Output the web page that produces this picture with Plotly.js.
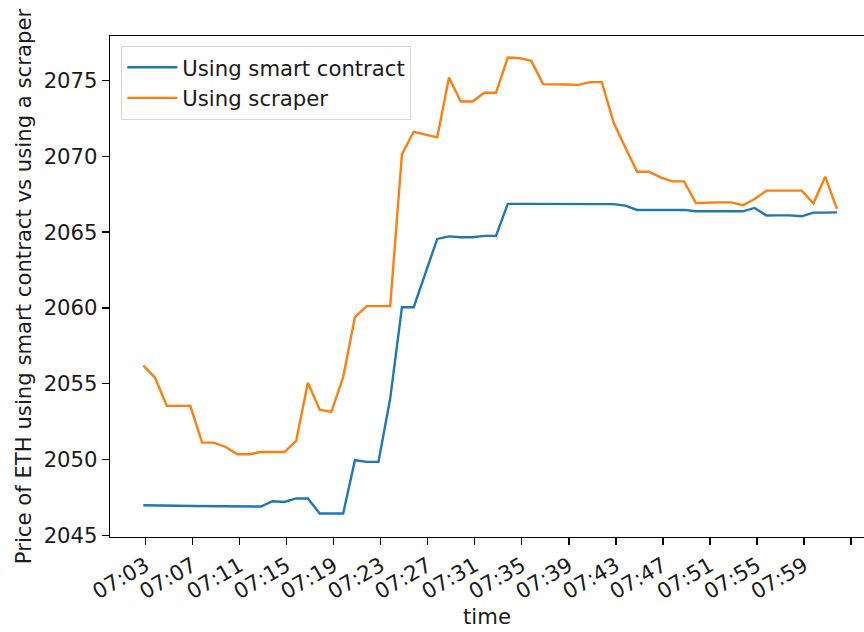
<!DOCTYPE html>
<html>
<head>
<meta charset="utf-8">
<script src="https://cdn.plot.ly/plotly-3.0.1.min.js"></script>
<style>html,body{margin:0;padding:0;background:#fff;}#chart{width:864px;height:632px;}</style>
</head>
<body>
<div id="chart"></div>
<script>
const times = [
  "2023-01-01 07:02:48","2023-01-01 07:03:48","2023-01-01 07:04:48","2023-01-01 07:05:48","2023-01-01 07:06:48",
  "2023-01-01 07:07:48","2023-01-01 07:08:48","2023-01-01 07:09:48","2023-01-01 07:10:48","2023-01-01 07:11:48",
  "2023-01-01 07:12:48","2023-01-01 07:13:48","2023-01-01 07:14:48","2023-01-01 07:15:48","2023-01-01 07:16:48",
  "2023-01-01 07:17:48","2023-01-01 07:18:48","2023-01-01 07:19:48","2023-01-01 07:20:48","2023-01-01 07:21:48",
  "2023-01-01 07:22:48","2023-01-01 07:23:48","2023-01-01 07:24:48","2023-01-01 07:25:48","2023-01-01 07:26:48",
  "2023-01-01 07:27:48","2023-01-01 07:28:48","2023-01-01 07:29:48","2023-01-01 07:30:48","2023-01-01 07:31:48",
  "2023-01-01 07:32:48","2023-01-01 07:33:48","2023-01-01 07:34:48","2023-01-01 07:35:48","2023-01-01 07:36:48",
  "2023-01-01 07:37:48","2023-01-01 07:38:48","2023-01-01 07:39:48","2023-01-01 07:40:48","2023-01-01 07:41:48",
  "2023-01-01 07:42:48","2023-01-01 07:43:48","2023-01-01 07:44:48","2023-01-01 07:45:48","2023-01-01 07:46:48",
  "2023-01-01 07:47:48","2023-01-01 07:48:48","2023-01-01 07:49:48","2023-01-01 07:50:48","2023-01-01 07:51:48",
  "2023-01-01 07:52:48","2023-01-01 07:53:48","2023-01-01 07:54:48","2023-01-01 07:55:48","2023-01-01 07:56:48",
  "2023-01-01 07:57:48","2023-01-01 07:58:48","2023-01-01 07:59:48","2023-01-01 08:00:48","2023-01-01 08:01:48"
];

const smartContract = [
  2047.00,2047.00,2046.98,2046.97,2046.95,2046.94,2046.93,2046.92,2046.92,2046.92,
  2046.92,2047.27,2047.22,2047.45,2047.45,2046.46,2046.46,2046.46,2049.97,2049.86,
  2049.86,2054.03,2060.05,2060.05,2062.30,2064.55,2064.72,2064.66,2064.66,2064.75,
  2064.75,2066.86,2066.86,2066.86,2066.86,2066.86,2066.86,2066.85,2066.84,2066.84,
  2066.84,2066.74,2066.46,2066.46,2066.46,2066.46,2066.46,2066.37,2066.37,2066.37,
  2066.37,2066.37,2066.59,2066.09,2066.10,2066.10,2066.04,2066.28,2066.28,2066.30
];

const scraper = [
  2056.20,2055.40,2053.55,2053.55,2053.55,2051.13,2051.13,2050.84,2050.36,2050.36,
  2050.51,2050.51,2050.51,2051.24,2055.08,2053.30,2053.15,2055.45,2059.39,2060.12,
  2060.12,2060.12,2070.14,2071.61,2071.42,2071.24,2075.18,2073.60,2073.60,2074.18,
  2074.18,2076.50,2076.46,2076.28,2074.75,2074.75,2074.72,2074.70,2074.88,2074.88,
  2072.22,2070.58,2068.98,2068.98,2068.60,2068.34,2068.34,2066.92,2066.96,2066.96,
  2066.96,2066.77,2067.18,2067.73,2067.73,2067.73,2067.73,2066.90,2068.65,2066.53
];

const xTickVals = [
  "2023-01-01 07:03","2023-01-01 07:07","2023-01-01 07:11","2023-01-01 07:15","2023-01-01 07:19",
  "2023-01-01 07:23","2023-01-01 07:27","2023-01-01 07:31","2023-01-01 07:35","2023-01-01 07:39",
  "2023-01-01 07:43","2023-01-01 07:47","2023-01-01 07:51","2023-01-01 07:55","2023-01-01 07:59",
  "2023-01-01 08:03"
];
const xTickText = ["07:03","07:07","07:11","07:15","07:19","07:23","07:27","07:31","07:35","07:39",
  "07:43","07:47","07:51","07:55","07:59",""];
const yTickVals = [2045,2050,2055,2060,2065,2070,2075];

const font = {family: "DejaVu Sans, sans-serif", size: 21.2, color: "#1a1a1a"};

const traces = [
  {x: times, y: smartContract, type: "scatter", mode: "lines", name: "Using smart contract",
   line: {color: "#1f77b4", width: 2.4}},
  {x: times, y: scraper, type: "scatter", mode: "lines", name: "Using scraper",
   line: {color: "#ff7f0e", width: 2.4}}
];

const layout = {
  width: 864, height: 632,
  margin: {l: 110, r: 0, t: 36, b: 95, pad: 0},
  paper_bgcolor: "#fff", plot_bgcolor: "#fff",
  font: font,
  showlegend: true,
  legend: {x: 0.015, y: 0.98, xanchor: "left", yanchor: "top",
    bgcolor: "rgba(255,255,255,0.8)", bordercolor: "#d6d6d6", borderwidth: 1,
    font: font, itemwidth: 50},
  xaxis: {
    type: "date",
    range: ["2023-01-01 06:59:58", "2023-01-01 08:04:06"],
    tickmode: "array", tickvals: xTickVals, ticktext: xTickText,
    tickangle: -30, ticks: "outside", ticklen: 7, tickwidth: 1.2, tickcolor: "#000",
    showgrid: false, zeroline: false,
    showline: true, linecolor: "#000", linewidth: 1.2, mirror: true,
    tickfont: font,
    title: {text: "time", font: font, standoff: 6}
  },
  yaxis: {
    range: [2044.91, 2077.92],
    tickmode: "array", tickvals: yTickVals,
    ticks: "outside", ticklen: 7, tickwidth: 1.2, tickcolor: "#000",
    showgrid: false, zeroline: false,
    showline: true, linecolor: "#000", linewidth: 1.2, mirror: false,
    tickfont: font,
    title: {text: "Price of ETH using smart contract vs using a scraper", font: font, standoff: 6}
  }
};

Plotly.newPlot("chart", traces, layout, {displayModeBar: false, staticPlot: true});
</script>
</body>
</html>
